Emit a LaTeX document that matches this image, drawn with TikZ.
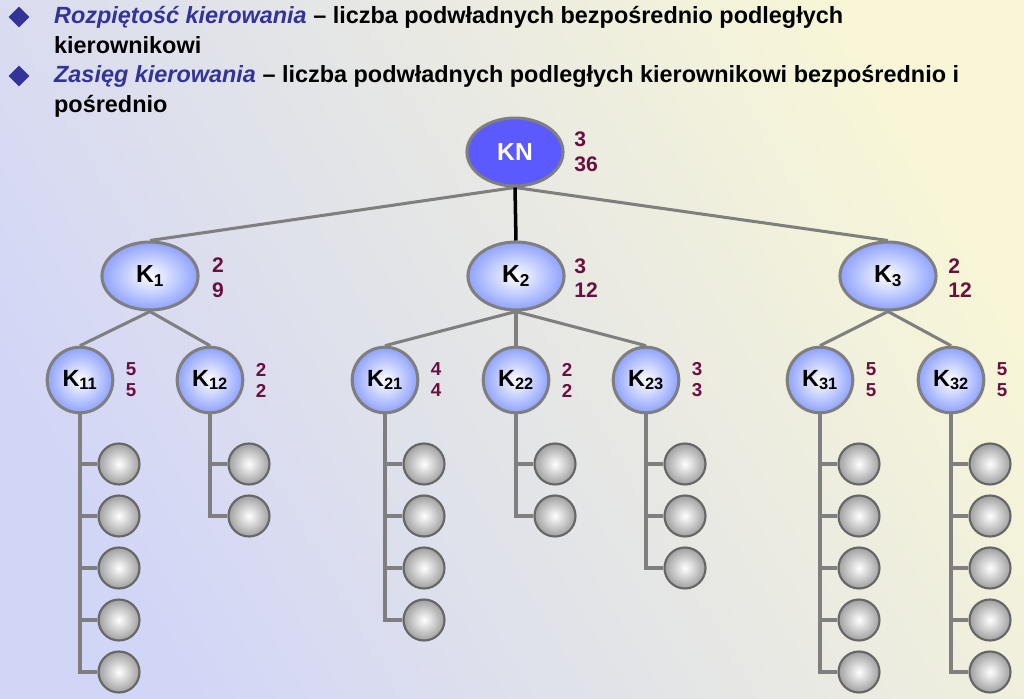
\documentclass[tikz,border=0pt]{standalone}
\usepackage{fontspec}
\setmainfont{Liberation Sans}
\usetikzlibrary{shapes.geometric}
\definecolor{bgA}{HTML}{D2D6F6}
\definecolor{bgB}{HTML}{F8F6D6}
\definecolor{navy}{HTML}{33339A}
\definecolor{num}{HTML}{6A1040}
\definecolor{kblue}{HTML}{5A5AFF}
\definecolor{lblue}{HTML}{8FA2FF}
\definecolor{edge}{HTML}{7F7F7F}
\tikzset{
	big/.style={ellipse, minimum width=82pt, minimum height=58pt, draw=edge, line width=2.6pt, inner sep=0pt, font=\bfseries\fontsize{21}{21}\selectfont},
	mid/.style={circle, minimum size=56pt, draw=edge, line width=2.6pt, inner sep=0pt, font=\bfseries\fontsize{20}{20}\selectfont, inner color=white, outer color=lblue},
	leaf/.style={circle, minimum size=35pt, draw=edge!80!black, line width=1.8pt, inner color=white, outer color=gray!75},
	cnt/.style={align=left, text=num, font=\bfseries\fontsize{18}{21}\selectfont},
	link/.style={edge, line width=2.6pt}
}
\begin{document}
\begin{tikzpicture}[x=0.03cm, y=-0.03cm]
	\shade[left color=bgA, right color=bgB, shading angle=120] (0,0) rectangle (1024,699);
	\useasboundingbox (0,0) rectangle (1024,699);

	% header
	\node[navy, diamond, fill, inner sep=0pt, minimum size=18pt] (b1) at (19,17) {};
	\node[navy, diamond, fill, inner sep=0pt, minimum size=18pt] (b2) at (19,76) {};
	\node[anchor=north west, align=left, font=\bfseries\fontsize{20}{25.5}\selectfont] (t1) at (50,2)
		{{\color{navy}\itshape Rozpiętość kierowania} -- liczba podwładnych bezpośrednio podległych\\kierownikowi};
	\node[anchor=north west, align=left, font=\bfseries\fontsize{20}{25.5}\selectfont] (t2) at (50,61)
		{{\color{navy}\itshape Zasięg kierowania} -- liczba podwładnych podległych kierownikowi bezpośrednio i\\pośrednio};

	% top levels
	\node[big, fill=kblue, text=white] (KN) at (515,152) {KN};
	\node[big, inner color=white, outer color=lblue] (K1) at (150,276) {K\textsubscript{1}};
	\node[big, inner color=white, outer color=lblue] (K2) at (516,276) {K\textsubscript{2}};
	\node[big, inner color=white, outer color=lblue] (K3) at (888,276) {K\textsubscript{3}};
	\node[cnt] (nKN) at (586,152) {3\\36};
	\node[cnt] (n1) at (218,278) {2\\9};
	\node[cnt] (n2) at (586,278) {3\\12};
	\node[cnt] (n3) at (960,278) {2\\12};

	\draw[link] (KN.south) -- (K1.north);
	\draw[link] (KN.south) -- (K3.north);
	\draw[line width=3pt] (KN.south) -- (K2.north);

	% third level with leaves
	\foreach \name/\x/\up/\nr/\n in {11/80/1/5/5, 12/210/1/2/2, 21/385/2/4/4, 22/516/2/2/2, 23/646/2/3/3, 31/820/3/5/5, 32/951/3/5/5}{
		\node[mid] (K\name) at (\x,380) {K\textsubscript{\name}};
		\node[cnt, font=\bfseries\fontsize{16}{18}\selectfont] (n\name) at (\x+51,380) {\nr\\\nr};
		\draw[link] (K\up.south) -- (K\name.north);
		\foreach \i in {1,...,\n}{
			\node[leaf] (L\name-\i) at (\x+39,412+52*\i) {};
			\draw[link] (K\name.south) |- (L\name-\i.west);
		}
	}
\end{tikzpicture}
\end{document}
